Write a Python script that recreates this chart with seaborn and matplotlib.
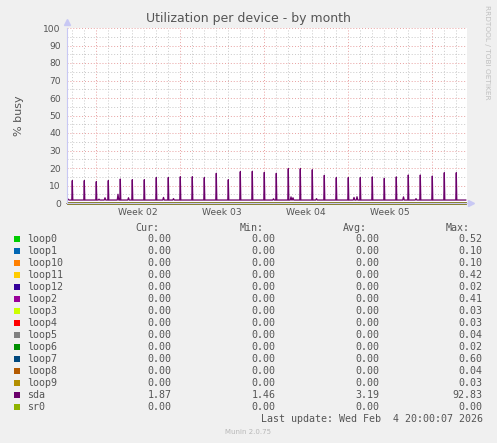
import numpy as np
import pandas as pd
import matplotlib
matplotlib.use('Agg')
import matplotlib.pyplot as plt
import matplotlib.dates as mdates
from matplotlib.patches import Rectangle
import seaborn as sns

W, H = 497, 443

# legend table
devices = ['loop0', 'loop1', 'loop10', 'loop11', 'loop12', 'loop2', 'loop3', 'loop4',
           'loop5', 'loop6', 'loop7', 'loop8', 'loop9', 'sda', 'sr0']
colors = ['#00CC00', '#0066B3', '#FF8000', '#FFCC00', '#330099', '#990099', '#CCFF00', '#FF0000',
          '#808080', '#008F00', '#00487D', '#B35A00', '#B38F00', '#6B006B', '#8FB300']
cur_vals = [0.00, 0.00, 0.00, 0.00, 0.00, 0.00, 0.00, 0.00, 0.00, 0.00, 0.00, 0.00, 0.00, 1.87, 0.00]
min_vals = [0.00, 0.00, 0.00, 0.00, 0.00, 0.00, 0.00, 0.00, 0.00, 0.00, 0.00, 0.00, 0.00, 1.46, 0.00]
avg_vals = [0.00, 0.00, 0.00, 0.00, 0.00, 0.00, 0.00, 0.00, 0.00, 0.00, 0.00, 0.00, 0.00, 3.19, 0.00]
max_vals = [0.52, 0.10, 0.10, 0.42, 0.02, 0.41, 0.03, 0.03, 0.04, 0.02, 0.60, 0.04, 0.03, 92.83, 0.00]

# time window of the graph
t_start = pd.Timestamp('2026-01-02 14:36')
span_hours = 800
week_names = ['Week 02', 'Week 03', 'Week 04', 'Week 05']
week_centers = ['2026-01-08 12:00', '2026-01-15 12:00', '2026-01-22 12:00', '2026-01-29 12:00']

# sda: baseline, one nightly spike per day, a few small bumps
sda_base = 1.7
sda_start_vals = [3.0, 2.2]
peak_first = '2026-01-03 01:12'
peak_vals = [12.8, 12.8, 12.2, 12.8, 13.7, 13.3, 13.3, 14.5, 14.5, 15.0, 15.0, 14.5, 17.0,
             13.3, 17.9, 18.1, 17.5, 17.0, 19.6, 19.6, 19.0, 15.8, 14.5, 14.5, 14.5, 14.9,
             14.1, 14.9, 16.0, 16.0, 15.4, 17.3, 17.3]
bump_hours = [64, 76, 102, 123, 193, 213, 413, 448, 452, 499, 574, 580, 673, 698]
bump_vals = [2.2, 3.0, 5.0, 3.0, 3.2, 2.5, 2.4, 3.5, 3.0, 2.5, 3.2, 3.6, 3.5, 2.5]

# build sda point list
peak_times = pd.date_range(peak_first, periods=len(peak_vals), freq='D')
pts = [(t_start, sda_start_vals[0]), (t_start + pd.Timedelta(hours=2), sda_start_vals[1]),
       (t_start + pd.Timedelta(hours=4), sda_base),
       (t_start + pd.Timedelta(hours=span_hours - 2), sda_base)]
for t, v in zip(peak_times, peak_vals):
    pts += [(t - pd.Timedelta(hours=1), sda_base), (t, v), (t + pd.Timedelta(hours=1), sda_base)]
for hh, v in zip(bump_hours, bump_vals):
    t = t_start + pd.Timedelta(hours=hh)
    pts += [(t - pd.Timedelta(hours=1.5), sda_base), (t, v), (t + pd.Timedelta(hours=1.5), sda_base)]
sda = pd.DataFrame(pts, columns=['time', 'busy']).sort_values('time')

sns.set_style('white')
plt.rcParams['font.family'] = ['DejaVu Sans']
txt = '#555555'

fig = plt.figure(figsize=(W / 100, H / 100), dpi=100, facecolor='#F0F0F0')
ax = fig.add_axes([67 / W, 1 - 203 / H, 400 / W, 175 / H])
ax.set_facecolor('white')

t_end = t_start + pd.Timedelta(hours=span_hours)
zero = pd.DataFrame({'time': [t_start, t_end - pd.Timedelta(hours=2)], 'busy': [0, 0]})
for name, col in zip(devices, colors):
    if name == 'sda':
        continue
    sns.lineplot(data=zero, x='time', y='busy', color=col, lw=1.0, ax=ax, clip_on=False)
sns.lineplot(data=sda, x='time', y='busy', color='#6B006B', lw=0.9, ax=ax, estimator=None)

ax.set_xlim(t_start, t_end)
ax.set_ylim(0, 100)
ax.set_yticks(np.arange(0, 101, 10))
ax.set_yticks(np.arange(0, 101, 5), minor=True)
ax.xaxis.set_major_locator(mdates.WeekdayLocator(byweekday=mdates.MO))
ax.xaxis.set_minor_locator(mdates.DayLocator())
ax.xaxis.set_major_formatter(plt.NullFormatter())
ax.grid(which='major', color='#E8A0A0', ls=(0, (1, 2)), lw=0.7)
ax.grid(which='minor', color='#C8C8C8', ls=(0, (1, 2)), lw=0.7)
ax.set_axisbelow(True)
ax.tick_params(axis='y', which='major', length=2, width=0.6, color='#C8C8C8',
               labelsize=6.6, labelcolor=txt, pad=2.5)
ax.tick_params(axis='y', which='minor', length=0)
ax.tick_params(axis='x', which='major', length=2, width=0.6, color='#E8A0A0')
ax.tick_params(axis='x', which='minor', length=2, width=0.6, color='#C8C8C8')
ax.set_xlabel('')
ax.set_ylabel('% busy', fontsize=8, color=txt, labelpad=14)
for s in ['top', 'right']:
    ax.spines[s].set_visible(False)
for s in ['left', 'bottom']:
    ax.spines[s].set_color('#C8C8F4')
    ax.spines[s].set_linewidth(0.8)
ax.plot([0], [1.035], marker='^', ms=5, color='#C8C8F4', transform=ax.transAxes, clip_on=False)
ax.plot([1.01], [0], marker='>', ms=5, color='#C8C8F4', transform=ax.transAxes, clip_on=False)

for name, c in zip(week_names, week_centers):
    ax.text(pd.Timestamp(c), -0.052, name, transform=ax.get_xaxis_transform(),
            ha='center', va='center', fontsize=6.6, color=txt)

fig.text(248.5 / W, 1 - 18.5 / H, 'Utilization per device - by month', ha='center', va='center',
         fontsize=9, color=txt)
fig.text(487 / W, 1 - 5 / H, 'RRDTOOL / TOBI OETIKER', rotation=270, ha='center', va='top',
         fontsize=5.3, color='#C0C0C0')

# legend table
mono = dict(family='DejaVu Sans Mono', fontsize=7.2, color=txt, va='center')
head_y = 227.7
for lab, xr in zip(['Cur:', 'Min:', 'Avg:', 'Max:'], [159.3, 263.3, 366.7, 470]):
    fig.text(xr / W, 1 - head_y / H, lab, ha='right', **mono)
for i, name in enumerate(devices):
    y = 239.3 + 12 * i
    fig.add_artist(Rectangle((14 / W, 1 - (y + 3) / H), 6 / W, 6 / H, transform=fig.transFigure,
                             facecolor=colors[i], edgecolor='none'))
    fig.text(26.7 / W, 1 - y / H, name, ha='left', **mono)
    for v, xr in zip([cur_vals[i], min_vals[i], avg_vals[i], max_vals[i]], [171.3, 275.3, 379, 482.7]):
        fig.text(xr / W, 1 - y / H, f'{v:.2f}', ha='right', **mono)
fig.text(482.7 / W, 1 - 419.3 / H, 'Last update: Wed Feb  4 20:00:07 2026', ha='right', **mono)
fig.text(248 / W, 1 - 432 / H, 'Munin 2.0.75', ha='center', va='center', fontsize=5, color='#B8B8B8')

fig.savefig('out.png', dpi=100, facecolor=fig.get_facecolor())
